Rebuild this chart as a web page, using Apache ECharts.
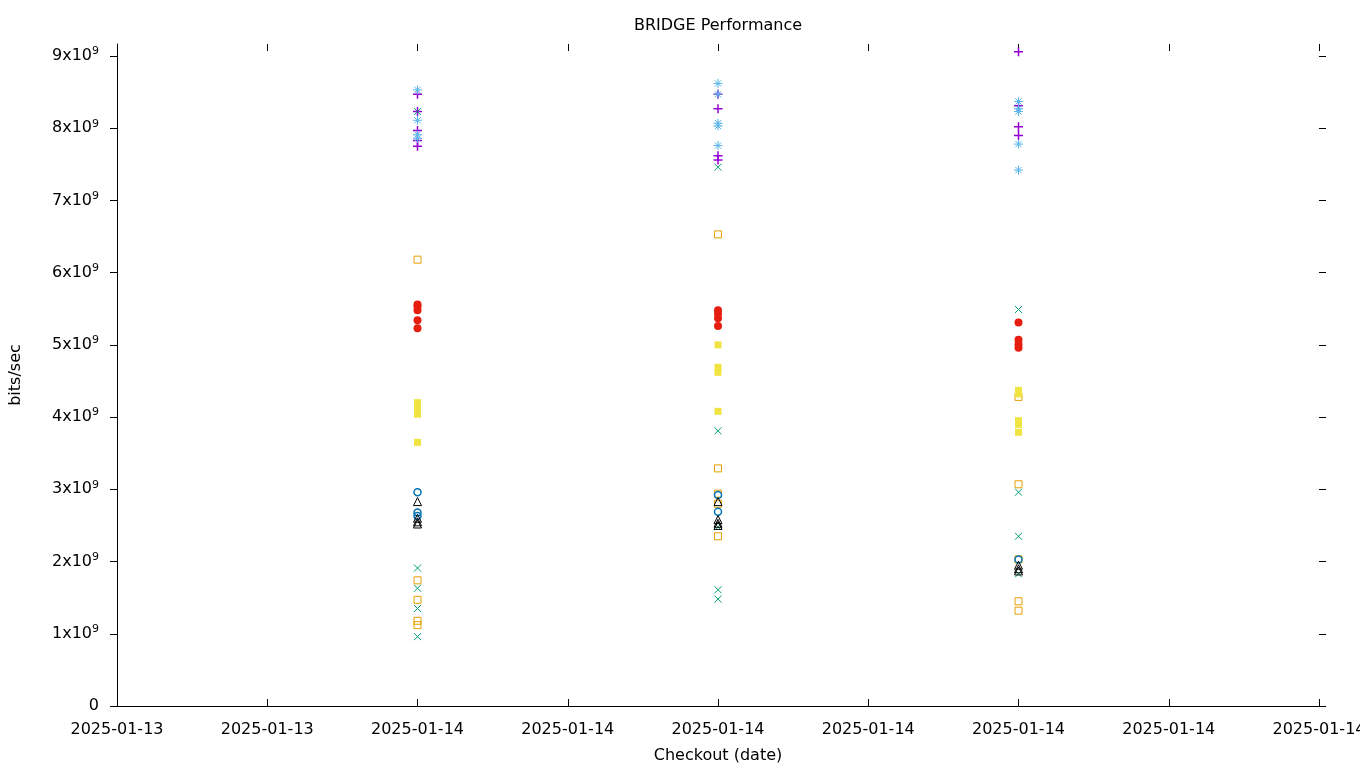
<!DOCTYPE html>
<html>
<head>
<meta charset="utf-8">
<script src="https://cdn.jsdelivr.net/npm/echarts@6/dist/echarts.min.js"></script>
<style>
html,body{margin:0;padding:0;background:#fff;}
#chart{width:1360px;height:768px;}
</style>
</head>
<body>
<div id="chart"></div>
<script>
// ---- data (values in units of 1e9 bits/sec) ----
const xTickLabels = ['2025-01-13','2025-01-13','2025-01-14','2025-01-14','2025-01-14','2025-01-14','2025-01-14','2025-01-14','2025-01-14'];
const checkoutPos = [2, 4, 6];           // tick index of each checkout
const yTickValues = [0,1,2,3,4,5,6,7,8,9];

const plusVals     = [[8.47, 8.23, 7.97, 7.83, 7.75], [8.47, 8.27, 7.62, 7.56], [9.06, 8.31, 8.02, 7.90]];
const crossVals    = [[8.23, 1.91, 1.63, 1.35, 0.96], [7.46, 3.81, 2.48, 1.61, 1.48], [5.49, 2.96, 2.35, 1.83]];
const starVals     = [[8.53, 8.11, 7.91, 7.86], [8.62, 8.47, 8.07, 8.03, 7.76], [8.37, 8.27, 8.23, 7.78, 7.42]];
const openSqVals   = [[6.18, 1.74, 1.47, 1.18, 1.12], [6.53, 3.29, 2.94, 2.80, 2.35], [4.28, 3.07, 2.03, 1.45, 1.32]];
const fillSqVals   = [[4.20, 4.14, 4.09, 4.04, 3.65], [5.00, 4.69, 4.62, 4.08], [4.37, 4.32, 3.95, 3.90, 3.79]];
const openCircVals = [[2.96, 2.68, 2.63], [2.92, 2.69], [2.03]];
const fillCircVals = [[5.56, 5.53, 5.48, 5.34, 5.23], [5.48, 5.43, 5.37, 5.26], [5.31, 5.07, 5.01, 4.96]];
const triVals      = [[2.83, 2.60, 2.55, 2.52], [2.83, 2.58, 2.53, 2.50], [1.95, 1.90, 1.87]];

const UNIT = 1e9;
function toPoints(cols) {
  const pts = [];
  cols.forEach((vals, i) => vals.forEach(v => pts.push([checkoutPos[i], v * UNIT])));
  return pts;
}

const FONT = 'DejaVu Sans';
const PLUS = 'path://M5,0L5,10M0,5L10,5';
const CROSS = 'path://M0,0L10,10M10,0L0,10';
const STAR = 'path://M5,0L5,10M0,5L10,5M1.5,1.5L8.5,8.5M8.5,1.5L1.5,8.5';
const TRI = 'path://M5,0L10,9L0,9Z';

function lineSym(name, data, symbol, size, color, bw) {
  return {
    type: 'scatter', name, data: toPoints(data), symbol, symbolSize: size,
    itemStyle: { color: 'none', borderColor: color, borderWidth: bw, opacity: 1 },
    xAxisIndex: 0, yAxisIndex: 0
  };
}
function fillSym(name, data, symbol, size, color) {
  return {
    type: 'scatter', name, data: toPoints(data), symbol, symbolSize: size,
    itemStyle: { color: color, opacity: 1 },
    xAxisIndex: 0, yAxisIndex: 0
  };
}

const series = [
  lineSym('s1', plusVals, PLUS, 9, '#9400d3', 1.5),
  lineSym('s2', crossVals, CROSS, 7, '#009e73', 1),
  lineSym('s3', starVals, STAR, 9, '#56b4e9', 1),
  lineSym('s4', openSqVals, 'rect', 7, '#e69f00', 1),
  fillSym('s5', fillSqVals, 'rect', 7, '#f0e442'),
  lineSym('s6', openCircVals, 'circle', 7, '#0072b2', 1.5),
  fillSym('s7', fillCircVals, 'circle', 8, '#e51e10'),
  lineSym('s8', triVals, TRI, 8, '#000000', 1)
];

const yMax = 9.166 * UNIT;
const yTicks = yTickValues.map(v => v * UNIT);

function yFmt(v) {
  const n = Math.round(v / UNIT);
  if (n === 0) return '0';
  return '{n|' + n + 'x10}{s|9}';
}

const option = {
  animation: false,
  backgroundColor: '#ffffff',
  title: {
    text: 'BRIDGE Performance',
    left: 713, top: 13, textAlign: 'center',
    textStyle: { fontFamily: FONT, fontSize: 16, fontWeight: 'normal', color: '#000' }
  },
  grid: { left: 117, right: 41, top: 44, bottom: 62, containLabel: false, outerBoundsMode: 'none' },
  xAxis: [
    {
      type: 'value', position: 'bottom', min: 0, max: 8, interval: 1,
      splitLine: { show: false },
      axisLine: { show: true, onZero: false, lineStyle: { color: '#000', width: 1 } },
      axisTick: { show: true, inside: true, length: 7, lineStyle: { color: '#000' } },
      axisLabel: {
        show: true, margin: 16, color: '#000', fontFamily: FONT, fontSize: 16,
        formatter: v => xTickLabels[Math.round(v)] || '', hideOverlap: false,
        showMinLabel: true, showMaxLabel: true
      },
      name: 'Checkout (date)', nameLocation: 'middle', nameGap: 42,
      nameTextStyle: { fontFamily: FONT, fontSize: 16, color: '#000', verticalAlign: 'top' }
    },
    {
      type: 'value', position: 'top', min: 0, max: 8, interval: 1,
      splitLine: { show: false },
      axisLine: { show: false, onZero: false },
      axisTick: { show: true, inside: true, length: 7, lineStyle: { color: '#000' } },
      axisLabel: { show: false }
    }
  ],
  yAxis: [
    {
      type: 'value', position: 'left', min: 0, max: yMax,
      splitLine: { show: false },
      axisLine: { show: true, onZero: false, lineStyle: { color: '#000', width: 1 } },
      axisTick: { show: true, inside: false, length: 7, customValues: yTicks, lineStyle: { color: '#000' } },
      axisLabel: {
        show: true, margin: 18, customValues: yTicks, formatter: yFmt,
        color: '#000', fontFamily: FONT, fontSize: 16,
        rich: {
          n: { fontFamily: FONT, fontSize: 16, color: '#000' },
          s: { fontFamily: FONT, fontSize: 11, color: '#000', verticalAlign: 'top', padding: [0, 0, 9, 0] }
        }
      },
      name: 'bits/sec', nameLocation: 'middle', nameGap: 93, nameRotate: 90,
      nameTextStyle: { fontFamily: FONT, fontSize: 16, color: '#000' }
    },
    {
      type: 'value', position: 'right', min: 0, max: yMax,
      splitLine: { show: false },
      axisLine: { show: false, onZero: false },
      axisTick: { show: true, inside: false, length: 7, customValues: yTicks, lineStyle: { color: '#000' } },
      axisLabel: { show: false }
    }
  ],
  series: series
};

const chart = echarts.init(document.getElementById('chart'), null, { renderer: 'canvas' });
chart.setOption(option);
</script>
</body>
</html>
